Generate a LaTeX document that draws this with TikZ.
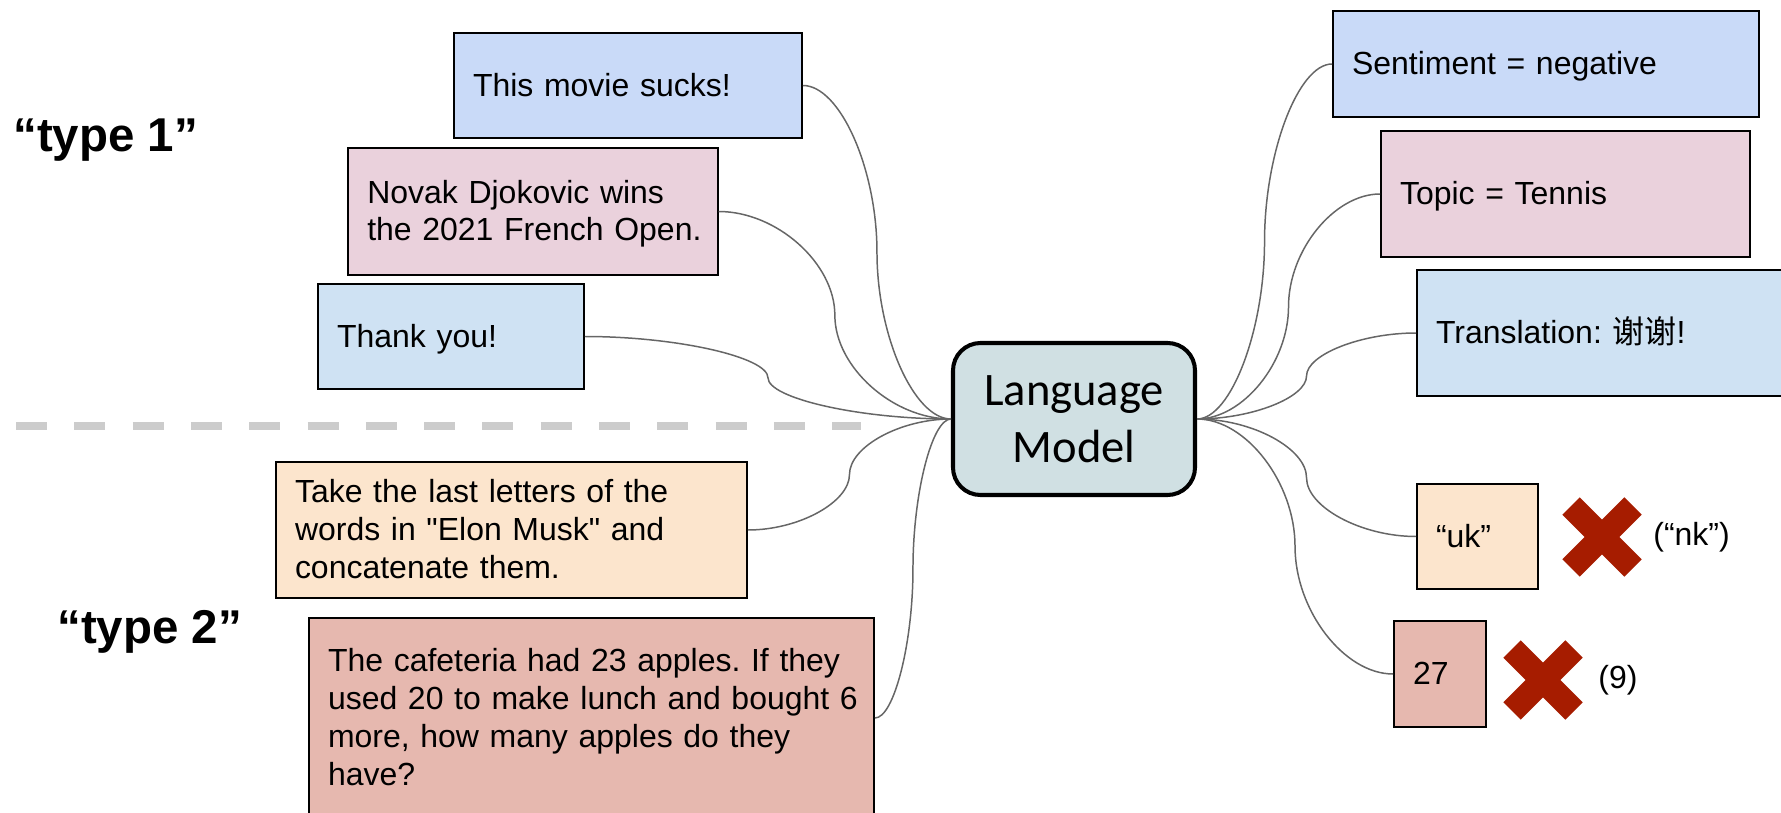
\documentclass[tikz,border=0pt]{standalone}
\usepackage{fontspec}
\newfontfamily\arial{Liberation Sans}
\newfontfamily\cjk{Noto Sans CJK SC}
\newfontfamily\calibri{Carlito}
\usetikzlibrary{calc}
\definecolor{cblue}{HTML}{C9DAF8}
\definecolor{lblue}{HTML}{CFE2F3}
\definecolor{lmagenta}{HTML}{EAD1DC}
\definecolor{lorange}{HTML}{FCE5CD}
\definecolor{lberry}{HTML}{E6B8AF}
\definecolor{lcyan}{HTML}{D0E0E3}
\definecolor{dberry}{HTML}{A61C00}
\definecolor{wire}{HTML}{666666}
\definecolor{sepgray}{HTML}{CCCCCC}
\frenchspacing
\begin{document}
\begin{tikzpicture}[line join=miter,
    box/.style={draw=black, line width=1.1pt, inner xsep=0.38cm, align=left,
      text height=12pt, font=\arial\fontsize{18.2}{21.5}\selectfont},
    lines/.style={text depth=#1},
    lmbox/.style={draw=black, fill=lcyan, line width=2.3pt, rounded corners=0.55cm,
      minimum width=4.84cm, minimum height=3.04cm, align=center,
      text height=49pt, text depth=0pt,
      font=\calibri\fontsize{26.5}{31.9}\selectfont},
    typelbl/.style={anchor=base west, inner sep=0pt, font=\arial\bfseries\fontsize{27}{32}\selectfont},
    aside/.style={anchor=west, inner sep=0pt, font=\arial\fontsize{18.2}{21.5}\selectfont},
    conn/.style={draw=wire, line width=0.85pt,
      to path={let \p1=(\tikztostart), \p2=(\tikztotarget) in
        .. controls ({0.75*\x1+0.25*\x2},\y1) and ({0.5*\x1+0.5*\x2},{0.75*\y1+0.25*\y2})
        .. ({0.5*\x1+0.5*\x2},{0.5*\y1+0.5*\y2})
        .. controls ({0.5*\x1+0.5*\x2},{0.25*\y1+0.75*\y2}) and ({0.25*\x1+0.75*\x2},\y2)
        .. (\p2)}},
    cross/.style={draw=dberry, line width=0.49cm}]
  \useasboundingbox (0,0) rectangle (35.62,16.24);
  % separator
  \draw[sepgray, line width=0.16cm, dash pattern=on 0.62cm off 0.546cm] (0.32,7.72) -- (17.22,7.72);
  \node[typelbl] (t1) at (0.26,13.20) {“type 1”};
  \node[typelbl] (t2) at (1.14,3.38) {“type 2”};
  % inputs
  \node[box, lines=0pt, fill=cblue, minimum width=6.96cm, minimum height=2.10cm, text width=6.20cm] (movie) at (12.56,14.53) {This movie sucks!};
  \node[box, lines=21.5pt, fill=lmagenta, minimum width=7.39cm, minimum height=2.54cm, text width=6.63cm] (djoko) at (10.66,12.01) {Novak Djokovic wins\\the~2021~French~Open.};
  \node[box, lines=0pt, fill=lblue, minimum width=5.32cm, minimum height=2.10cm, text width=4.56cm] (thanks) at (9.02,9.51) {Thank you!};
  \node[box, lines=43pt, fill=lorange, minimum width=9.42cm, minimum height=2.72cm, text width=8.66cm] (letters) at (10.23,5.64) {Take the last letters of the\\words in "Elon Musk" and\\concatenate them.};
  \node[box, lines=64.5pt, fill=lberry, minimum width=11.30cm, minimum height=4.00cm, text width=10.54cm] (cafe) at (11.83,1.88) {The~cafeteria~had~23~apples.~If~they\\used~20~to~make~lunch~and~bought~6\\more, how many apples do they\\have?};
  \node[lmbox] (lm) at (21.48,7.86) {Language\\Model};
  % outputs
  \node[box, lines=0pt, fill=cblue, minimum width=8.52cm, minimum height=2.12cm, text width=7.76cm] (senti) at (30.92,14.96) {Sentiment = negative};
  \node[box, lines=0pt, fill=lmagenta, minimum width=7.38cm, minimum height=2.52cm, text width=6.62cm] (topic) at (31.31,12.36) {Topic = Tennis};
  \node[box, lines=0pt, fill=lblue, minimum width=7.60cm, minimum height=2.52cm, text width=6.84cm] (transl) at (32.14,9.58) {Translation: {\cjk 谢谢}!};
  \node[box, lines=0pt, fill=lorange, minimum width=2.42cm, minimum height=2.10cm, text width=1.66cm] (uk) at (29.55,5.51) {“uk”};
  \node[box, lines=0pt, fill=lberry, minimum width=1.84cm, minimum height=2.12cm, text width=1.08cm] (ans) at (28.80,2.76) {27};
  \coordinate (x1) at (32.04,5.50);
  \coordinate (x2) at (30.86,2.64);
  \draw[cross] (x1) +(-0.62,-0.62) -- +(0.62,0.62) (x1) +(-0.62,0.62) -- +(0.62,-0.62);
  \draw[cross] (x2) +(-0.62,-0.62) -- +(0.62,0.62) (x2) +(-0.62,0.62) -- +(0.62,-0.62);
  \node[aside] (nk) at (33.06,5.50) {(“nk”)};
  \node[aside] (nine) at (31.96,2.64) {(9)};
  % connectors
  \draw[conn] (movie.east) to (lm.west);
  \draw[conn] (djoko.east) to (lm.west);
  \draw[conn] (thanks.east) to (lm.west);
  \draw[conn] (letters.east) to (lm.west);
  \draw[conn] (cafe.east) to (lm.west);
  \draw[conn] (lm.east) to (senti.west);
  \draw[conn] (lm.east) to (topic.west);
  \draw[conn] (lm.east) to (transl.west);
  \draw[conn] (lm.east) to (uk.west);
  \draw[conn] (lm.east) to (ans.west);
\end{tikzpicture}
\end{document}
